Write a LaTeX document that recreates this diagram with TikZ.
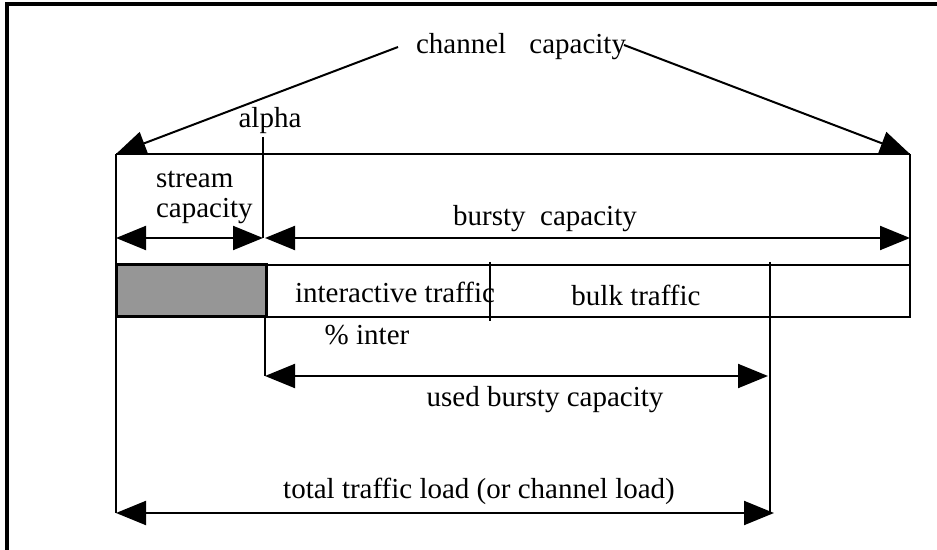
\documentclass[tikz,border=0pt]{standalone}
\usepackage{fontspec}
\setmainfont{Liberation Serif}
\usetikzlibrary{arrows.meta}
\definecolor{grigio}{RGB}{150,150,150}

\begin{document}
\begin{tikzpicture}[x=0.5pt, y=-0.5pt, >={Triangle[length=15pt, width=12pt]}, line width=1pt,
  every node/.style={font=\fontsize{14.5}{15}\selectfont, inner sep=0pt},
  quota/.style={<->}]
\useasboundingbox (0,0) rectangle (937,550);

% Cornice
\draw[line width=2pt] (7,550) -- (7,4) -- (937,4);

% Punti di riferimento
\coordinate (CL) at (116,154);
\coordinate (CR) at (910,154);
\coordinate (AT) at (263,137);
\coordinate (SL) at (116,238);
\coordinate (AL) at (263,238);
\coordinate (BL) at (265,238);
\coordinate (BR) at (910,238);
\coordinate (BarL) at (116,265);
\coordinate (BarM) at (266,317);
\coordinate (BarT) at (266,265);
\coordinate (BarR) at (910,317);
\coordinate (BarRT) at (910,265);
\coordinate (D1) at (490,262);
\coordinate (D2) at (490,321);
\coordinate (V1) at (770,262);
\coordinate (V2) at (770,513);
\coordinate (UT) at (265,317);
\coordinate (U1) at (265,376);
\coordinate (U2) at (768,376);
\coordinate (T1) at (116,513);
\coordinate (T2) at (774,513);

% Etichette
\node (cc) at (521,47) {channel\hspace{0.8em}capacity};
\node (alpha) at (270,121) {alpha};
\node[anchor=west, align=left] (stream) at (155,197) {stream\\capacity};
\node (bursty) at (545,219) {bursty\hspace{0.5em}capacity};
\node (inter) at (395,292) {interactive traffic};
\node (bulk) at (636,295) {bulk traffic};
\node (perc) at (367,335) {\% inter};
\node (used) at (545,400) {used bursty capacity};
\node (total) at (479,491) {total traffic load (or channel load)};

% Capacita' del canale
\draw[->] ([xshift=-8.5pt]cc.west) -- (CL);
\draw[->] ([xshift=-1.5pt, yshift=1pt]cc.east) -- (CR);
\draw (CL) -- (CR);
\draw (CL) -- (T1);
\draw (CR) -- (BarRT);
\draw (AT) -- (AL);

% Quote stream / bursty
\draw[quota] (SL) -- (AL);
\draw[quota] (BL) -- (BR);

% Barra del traffico
\draw (BarT) rectangle (BarR);
\draw[fill=grigio, line width=1.5pt] (BarL) rectangle (BarM);
\draw (D1) -- (D2);
\draw (V1) -- (V2);

% Quote in basso
\draw (UT) -- (U1);
\draw[quota] (U1) -- (U2);
\draw[quota] (T1) -- (T2);

\end{tikzpicture}
\end{document}
